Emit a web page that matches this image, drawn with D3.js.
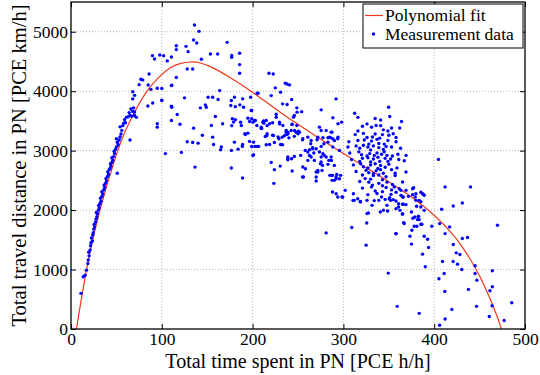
<!DOCTYPE html>
<html>
<head>
<meta charset="utf-8">
<script src="https://cdn.jsdelivr.net/npm/d3@7"></script>
<style>
  body { margin: 0; background: #fff; }
  text { font-family: "Liberation Serif", "Times New Roman", serif; fill: #000; }
  .grid line { stroke: #b4b4b4; stroke-dasharray: 1,2; }
  .tick line { stroke: #000; }
</style>
</head>
<body>
<svg id="chart"></svg>
<script>
const xTicks = [0, 100, 200, 300, 400, 500];
const yTicks = [0, 1000, 2000, 3000, 4000, 5000];

// polynomial fit
const fitCurve = [
  [6, 0], [16.5, 1000], [31, 2000], [51, 3000], [60, 3350], [70, 3650], [82.4, 4000],
  [98, 4262], [109, 4401], [120, 4469], [132, 4497], [142, 4486], [156, 4401], [175, 4234],
  [194, 4050], [210, 3870], [230, 3650], [250, 3440], [275, 3190], [300, 2950], [325, 2715],
  [350, 2480], [375, 2225], [400, 1930], [425, 1530], [440, 1170], [450, 900], [460, 570],
  [470, 190], [474, 0]
];

// measurement data, grouped by region of the plot
const rampPoints = [
  [11,600],[13.5,880],[15.5,905],[17,990],[18.5,1100],[19,1160],[20,1230],[19.5,1290],[21,1330],
  [21.5,1400],[22,1450],[23.5,1480],[22.5,1530],[24,1580],[24.5,1620],[25,1680],[26,1720],[25.5,1760],
  [27,1800],[27.5,1850],[28.5,1890],[29,1940],[28,1960],[30,2000],[31,2040],[30.5,2080],[32,2110],
  [33,2150],[32.5,2200],[34,2230],[35,2270],[34,2310],[36,2340],[37,2380],[36.5,2420],[38,2450],
  [39,2490],[38.5,2530],[40,2560],[41.5,2600],[40.5,2640],[42,2680],[43,2700],[44,2740],[43.5,2780],
  [45,2800],[46,2840],[45,2880],[47,2900],[48,2950],[47.5,2990],[49,3020],[50,3060],[52,3100],
  [51,3140],[53,3180],[50,3200],[54,3230],[55,3280],[56,3340],[54,3400],[57,3420],[58,3460],
  [60,3470],[59,3520],[61,3560],[63,3570],[65,3590],[67,3580],[70,3590],[72,3560],[64,3640],
  [68,3660],[66,3700],[69,3720],[70,3650],[51,2620],[65,3180],[68,3870],[70,3930],[68,3990],
  [75,4110],[77,4200],[79,4190],[86,4290],[85,4105],[88,4030],[95,4050],[84.6,3750],[90,3800],
  [100,3850],[110.6,4094],[104,2950]
];

const peakPoints = [
  [89.7,4598],[92,4542],[97.8,4609],[102,4598],[106,4509],[110.6,4576],[116,4765],[116,4699],
  [126.7,4754],[129,4665],[128,4374],[116,4229],[110.6,3747],[110.6,3507],[117,3608],[120,3445],
  [125,3888],[95,3452],[95,3395],[136,5113],[141,5006],[135,4861],[138.5,4810],[134,4374],
  [143.6,4536],[153.5,4626],[161.5,4626],[172,4821],[177,4600],[177,4570],[185.7,4637],[185.7,4447],
  [185.7,4301],[111,4100],[100,4044],[100,3843],[111,3730],[135,3378],[144.7,3260],[128,3150],
  [134,3138],[140,3126],[163.7,4010],[156,3898],[151,3898],[149,3730],[142.5,3720],[159,3574],
  [154.6,3423],[167,3452],[176.6,3843],[180,3898],[189,3871],[176,3760],[181,3740],[186,3770],
  [190,3730],[197.8,3898],[177.7,3536],[181,3519],[187.6,3423],[191.5,3284],[194.8,3294],[199,3536],
  [202,3507],[205,3965],[156,3227],[165.6,3060],[180,3143],[188.7,3071],[199,3070],[201,3143],
  [148,3770],[162,3860],[177,3420],[179,3480],[186.8,3479],[194.8,3546],[199,3675],[121.6,2970],
  [136.6,2723],[176.6,2707],[189,2539],[157,3104],[164.8,3015],[176.6,3004],[184,3025],[189,3104],
  [196.7,3155],[202.5,3071],[206.6,3071],[201,2931]
];

const midPoints = [
  [218,4301],[222.7,4290],[225,4056],[230.8,3982],[236,4133],[240.7,4106],[238,4120],[206,3965],
  [220.5,3926],[243,3860],[233,3787],[238,3775],[248.7,3720],[246,3590],[243.6,3445],[248.7,3423],
  [250.5,3327],[203,3507],[204.7,3423],[209.5,3378],[212,3500],[216,3420],[222,3470],[226,3613],
  [229.7,3450],[216,3284],[222,3260],[192,3270],[228,3230],[235,3250],[240,3215],[246,3240],
  [210,3373],[212.4,3462],[215.7,3255],[214,3238],[218.7,3104],[215,3099],[223,3255],[224,3138],
  [229,3200],[230.8,3104],[232.6,3227],[233,3099],[237,3311],[237.7,3272],[238.8,2864],[220.5,2802],
  [224,2680],[230.4,2740],[223.4,2450],[198.5,3675],[200.4,3479],[196.7,3490],[200.3,2920],[205,3071],
  [243.6,2657],[238.8,2847],[238.8,2892],[255.3,2724],[258.2,2696],[256,2556],[260.8,2836],[264.5,2892],
  [270,2640],[271.8,2668],[276.5,2668],[275.5,2808],[277.4,2948],[281,2892],[284,2836],[286.5,2892],
  [288.3,3060],[287.5,2500],[292.7,2600],[209.5,3395],[215,3506],[218.7,3451],[211.3,3479],[226,3562],
  [229.7,3479],[233.3,3423],[237,3339],[238.8,3311],[242.5,3339],[246.2,3339],[248,3311],[251.6,3311],
  [255.3,3200],[260.8,3227],[264.5,3171],[260.8,2975],[266.3,3032],[271.8,3227],[273.6,3395],[275.5,3339],
  [281,3339],[284.6,3227],[286.5,3311],[288.3,3200],[290.1,3171],[293.8,3200],[295.6,3004],[245,3563],
  [249,3647],[254,3656],[243.5,3440],[239,3283],[250,3283],[255,3183],[264,3116],[271,3183],[258,3004],
  [262.6,3015],[266,3048],[270,3032],[243,2864],[246,2903],[253,2920],[262.6,2920],[267.4,2959],
  [273.6,2976],[275.5,3071],[278.5,3116],[283,3143],[277.5,3216],[283,3216],[285.8,3216],[287.3,3311],
  [288.4,3552],[294,3451],[298,3479],[294,3227],[268,2836],[275.5,2892],[279,2920],[274.8,2780],
  [277,2752],[271.8,2640],[283,2769],[286.8,2836],[290,2752],[285,2584],[288,2584],[270,2556],
  [270,2489],[290,2500],[292,2556],[295.6,2528],[297,2584],[255,2556],[275.5,3686],[291.9,3870]
];

const clusterPoints = [
  [312.4,3630],[349.8,3730],[364,3490],[316,3560],[335,3540],[341,3516],[351,3574],[336,3423],[326,3450],
  [321,3410],[331,3395],[341,3420],[344,3350],[349,3330],[353,3380],[362,3380],[316,3330],[354.9,3284],
  [313,3270],[322,3290],[326,3220],[332,3230],[335,3280],[340,3210],[343,3270],[350,3260],[358,3220],
  [306,3150],[316,3170],[323,3180],[328,3110],[331,3160],[337,3190],[339,3120],[345,3110],[349,3170],
  [358,3150],
  [305,3060],[314,3080],[318,3040],[322,3090],[327,3060],[330,3010],[333,3080],[339,3050],[344,3020],
  [347,3070],[353,3060],[363,3040],
  [307,2960],[317,2980],[320,2930],[326,2910],[329,2950],[334,2920],[337,2960],[342,2940],[345,2980],
  [348,2920],[354,2910],[360,2940],[369,2920],
  [309,2850],[318,2820],[321,2870],[327,2880],[330,2810],[333,2860],[338,2890],[340,2820],[346,2870],
  [349,2820],[352,2860],[361,2850],[367,2830],
  [311,2760],[319,2780],[322,2730],[327,2710],[330,2760],[335,2780],[338,2700],[341,2750],[346,2720],
  [350,2770],[359,2710],
  [314,2650],[325,2670],[328,2630],[333,2610],[336,2660],[341,2680],[344,2620],[353,2680],[357,2620],
  [368.9,2640],
  [321,2590],[324,2530],[330,2520],[333,2580],[339,2590],[343,2510],[347,2560],[357,2580],
  [318,2480],[328,2470],[332,2420],[339,2450],[343,2410],[348,2470],[354,2430],[365.2,2472],
  [321,2370],[331,2390],[335,2320],[343,2310],[347,2380],[353,2340],[358,2300],
  [327,2260],[337,2280],[342,2220],[351,2210],[334,2160],[346,2180]
];

const tailPoints = [
  [288,2304],[292,2276],[298.4,2220],[302,2332],[310.6,2164],[318.7,2136],[326,2164],[331.6,2080],
  [339,2164],[344,1997],[348,2080],[352,2164],[326,1941],[340.6,1969],[404.7,2853],[412,2390],
  [440,2390],[408.2,2014],[421,2070],[431,2120],[469.7,1745],[281,1616],[309.2,1706],[325.7,1784],
  [325,1410],[358,1605],[373.3,1560],[375,1428],[387.2,1259],[393.8,1371],[389,1560],[397.4,1728],
  [406,1773],[417,1717],[412,1605],[421,1420],[424.3,1281],[428.3,1253],[431,1521],[436.7,1538],
  [293.8,2220],[299.3,2220],[291.9,2528],[287.5,2584],[311,2276],[315.8,2192],[318.7,2147],[312,2164],
  [327.5,1951],[376.2,2360],[379.9,2276],[383.5,2164],[387.2,2276],[389,2248],[379.9,2164],[365,1929],
  [365.9,2097],[371.7,2231],[365.9,2220],[363.4,2248],[368.9,2332],[375,1968],[378.7,1884],[382.4,1895],
  [386.4,1761],[381.6,1840],[385.3,2052],[389,1996],[360.8,2052],[392.7,1510],[390.2,1046],[409.2,1135],
  [420.9,1135],[425.7,1091],[430.4,1001],[445,1063],[464,979],[445,934],[447,822],[405.2,845],
  [411,934],[464,710],[461.4,643],[437.7,666],[411.7,632],[359.3,381],[383.5,263],[419.4,330],
  [412,168],[406,62],[446.6,381],[463.8,392],[485.4,442],[460.7,209],[477,142],[349.4,940],
  [357.8,1603],[367,1774],[376.5,1862],[382.8,1896],[383.5,1840],[380.9,1728],[385.3,1761],[378,1728],
  [375.4,1661],[380.6,2064],[385.3,2142],[376.2,2260],[379.1,2220],[385.3,2299],[388.3,2265],[365.2,1941],
  [366.3,1790],[348.7,1985],[357.9,2024],[362.3,1996],[365.2,2097],[368.9,2092],[357.9,2153],[360.8,2108],
  [365.2,2220],[354.9,2176],[350.5,2192],[377.3,2377],[352.4,2265],[356,2388],[361.5,2360],[363.4,2332]
];

const measurement = rampPoints.concat(peakPoints, midPoints, clusterPoints, tailPoints);

const width = 540, height = 375;
const margin = { left: 71, right: 15, top: 2, bottom: 46 };
const serif = '"Liberation Serif", "Times New Roman", serif';

const svg = d3.select("#chart").attr("width", width).attr("height", height);

const x = d3.scaleLinear().domain([0, 500]).range([margin.left, width - margin.right]);
const y = d3.scaleLinear().domain([0, 5500]).range([height - margin.bottom, margin.top]);

// dotted grid
const grid = svg.append("g").attr("class", "grid");
grid.selectAll(".gx").data(xTicks.slice(1, -1)).enter().append("line")
  .attr("x1", d => x(d)).attr("x2", d => x(d))
  .attr("y1", y.range()[0]).attr("y2", y.range()[1]);
grid.selectAll(".gy").data(yTicks.slice(1)).enter().append("line")
  .attr("x1", x.range()[0]).attr("x2", x.range()[1])
  .attr("y1", d => y(d)).attr("y2", d => y(d));

// fit line, then data on top
const line = d3.line().x(d => x(d[0])).y(d => y(d[1])).curve(d3.curveBasis);
svg.append("path")
  .datum(fitCurve)
  .attr("d", line)
  .attr("fill", "none")
  .attr("stroke", "#f0381a")
  .attr("stroke-width", 1.2);

svg.append("g").selectAll("circle")
  .data(measurement)
  .enter().append("circle")
  .attr("cx", d => x(d[0]))
  .attr("cy", d => y(d[1]))
  .attr("r", 1.7)
  .attr("fill", "#0000ff");

// axes, ticks inward on all four sides
const fontSize = 17.5;
const fmt = d3.format("d");
svg.append("g")
  .attr("transform", "translate(0," + y.range()[0] + ")")
  .call(d3.axisBottom(x).tickValues(xTicks).tickFormat(fmt).tickSizeInner(-5).tickSizeOuter(0).tickPadding(4));
svg.append("g")
  .attr("transform", "translate(" + x.range()[0] + ",0)")
  .call(d3.axisLeft(y).tickValues(yTicks).tickFormat(fmt).tickSizeInner(-5).tickSizeOuter(0).tickPadding(3));
svg.append("g")
  .attr("transform", "translate(0," + y.range()[1] + ")")
  .call(d3.axisTop(x).tickValues(xTicks).tickSizeInner(-5).tickSizeOuter(0).tickFormat(""));
svg.append("g")
  .attr("transform", "translate(" + x.range()[1] + ",0)")
  .call(d3.axisRight(y).tickValues(yTicks).tickSizeInner(-5).tickSizeOuter(0).tickFormat(""));

svg.selectAll(".domain").remove();
svg.selectAll(".tick text")
  .attr("font-family", serif)
  .style("font-size", fontSize + "px")
  .style("font-family", serif);

svg.append("rect")
  .attr("x", x.range()[0]).attr("y", y.range()[1])
  .attr("width", x.range()[1] - x.range()[0])
  .attr("height", y.range()[0] - y.range()[1])
  .attr("fill", "none").attr("stroke", "#000").attr("stroke-width", 1.3);

// axis titles
svg.append("text")
  .attr("x", (x.range()[0] + x.range()[1]) / 2)
  .attr("y", 367.5)
  .attr("text-anchor", "middle")
  .style("font-size", "20px")
  .style("font-family", serif)
  .text("Total time spent in PN [PCE h/h]");

svg.append("text")
  .attr("transform", "translate(25.5," + (y.range()[0] + y.range()[1]) / 2 + ") rotate(-90)")
  .attr("text-anchor", "middle")
  .style("font-size", "20.5px")
  .style("font-family", serif)
  .text("Total travel distance in PN [PCE km/h]");

// legend
const legend = svg.append("g").attr("transform", "translate(363,4)");
legend.append("rect")
  .attr("width", 160).attr("height", 44)
  .attr("fill", "#fff").attr("stroke", "#000").attr("stroke-width", 1);
legend.append("line")
  .attr("x1", 2).attr("x2", 20).attr("y1", 11.5).attr("y2", 11.5)
  .attr("stroke", "#f0381a").attr("stroke-width", 1.2);
legend.append("circle")
  .attr("cx", 10.5).attr("cy", 30).attr("r", 1.7).attr("fill", "#0000ff");
legend.append("text").attr("x", 22).attr("y", 17)
  .style("font-size", fontSize + "px").style("font-family", serif).text("Polynomial fit");
legend.append("text").attr("x", 22).attr("y", 36)
  .style("font-size", fontSize + "px").style("font-family", serif).text("Measurement data");
</script>
</body>
</html>
